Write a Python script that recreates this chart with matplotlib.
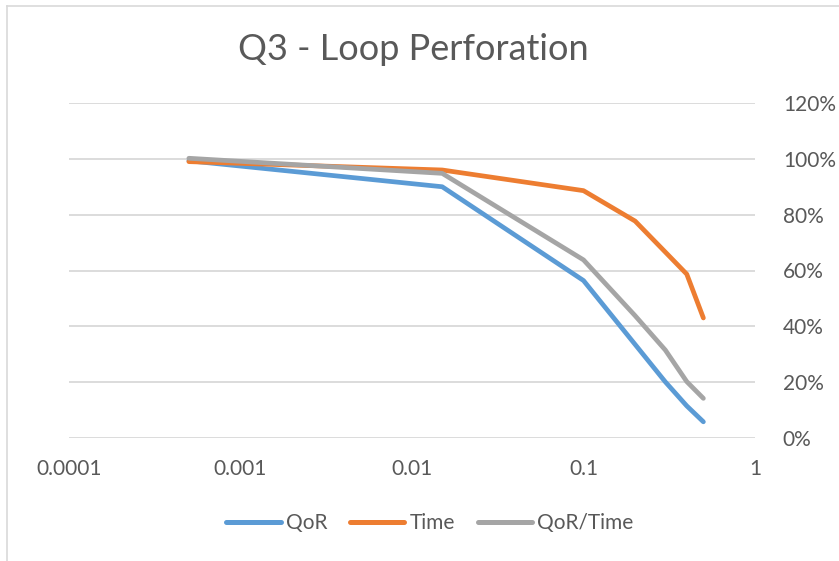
import matplotlib
matplotlib.use("Agg")
import matplotlib.pyplot as plt
from matplotlib.lines import Line2D
from matplotlib.ticker import FixedLocator, FuncFormatter, NullLocator

x_vals = [0.0005, 0.015, 0.1, 0.2, 0.3, 0.4, 0.5]
qor = [0.993, 0.900, 0.564, 0.335, 0.201, 0.115, 0.058]
time = [0.990, 0.960, 0.886, 0.777, 0.666, 0.587, 0.430]
qor_time = [1.002, 0.948, 0.638, 0.438, 0.315, 0.202, 0.142]
series_names = ["QoR", "Time", "QoR/Time"]
x_ticks = [0.0001, 0.001, 0.01, 0.1, 1]
x_tick_labels = ["0.0001", "0.001", "0.01", "0.1", "1"]
y_ticks = [0, 0.2, 0.4, 0.6, 0.8, 1.0, 1.2]
title = "Q3 - Loop Perforation"

colors = ["#5B9BD5", "#ED7D31", "#A5A5A5"]
text_color = "#595959"
grid_color = "#D9D9D9"
font = ["Lato", "DejaVu Sans"]
plt.rcParams['font.family'] = font

W, H = 839, 561
fig = plt.figure(figsize=(W / 100, H / 100), dpi=100)
left, right, bottom, top = 69, 755, 438, 103
ax = fig.add_axes([left / W, 1 - bottom / H, (right - left) / W, (bottom - top) / H])

for vals, name, c in zip([qor, time, qor_time], series_names, colors):
    ax.plot(x_vals, vals, color=c, lw=3.4, label=name, solid_capstyle='round',
            solid_joinstyle='round', zorder=3)

ax.set_xscale('log')
ax.set_xlim(1e-4, 1)
ax.set_ylim(0, 1.2)
ax.xaxis.set_major_locator(FixedLocator(x_ticks))
ax.xaxis.set_minor_locator(NullLocator())
ax.set_xticklabels(x_tick_labels)
ax.yaxis.set_major_locator(FixedLocator(y_ticks))
ax.yaxis.set_major_formatter(FuncFormatter(lambda v, p: f"{v*100:.0f}%"))
ax.yaxis.tick_right()
ax.tick_params(axis='both', length=0, labelsize=15, colors=text_color)
ax.tick_params(axis='x', pad=15)
ax.tick_params(axis='y', pad=20)
for s in ax.spines.values():
    s.set_visible(False)
ax.grid(axis='y', color=grid_color, lw=1.3, zorder=0)
ax.set_axisbelow(True)

fig.text(413 / W, 1 - 50 / H, title, ha='center', va='center', fontsize=26, color=text_color)

leg = fig.legend(loc='center', bbox_to_anchor=(430 / W, 1 - 523 / H), ncol=3, frameon=False,
                 fontsize=15, handlelength=2.6, columnspacing=1.1, handletextpad=0.25,
                 labelcolor=text_color)
for l in leg.get_lines():
    l.set_linewidth(3.6)

# chart border (top and left visible)
fig.add_artist(Line2D([6.5 / W, 1], [1 - 5.5 / H, 1 - 5.5 / H], color=grid_color, lw=1.2,
                      transform=fig.transFigure))
fig.add_artist(Line2D([6.5 / W, 6.5 / W], [0, 1 - 5.5 / H], color=grid_color, lw=1.2,
                      transform=fig.transFigure))

fig.savefig("out.png", dpi=100, facecolor="white")
